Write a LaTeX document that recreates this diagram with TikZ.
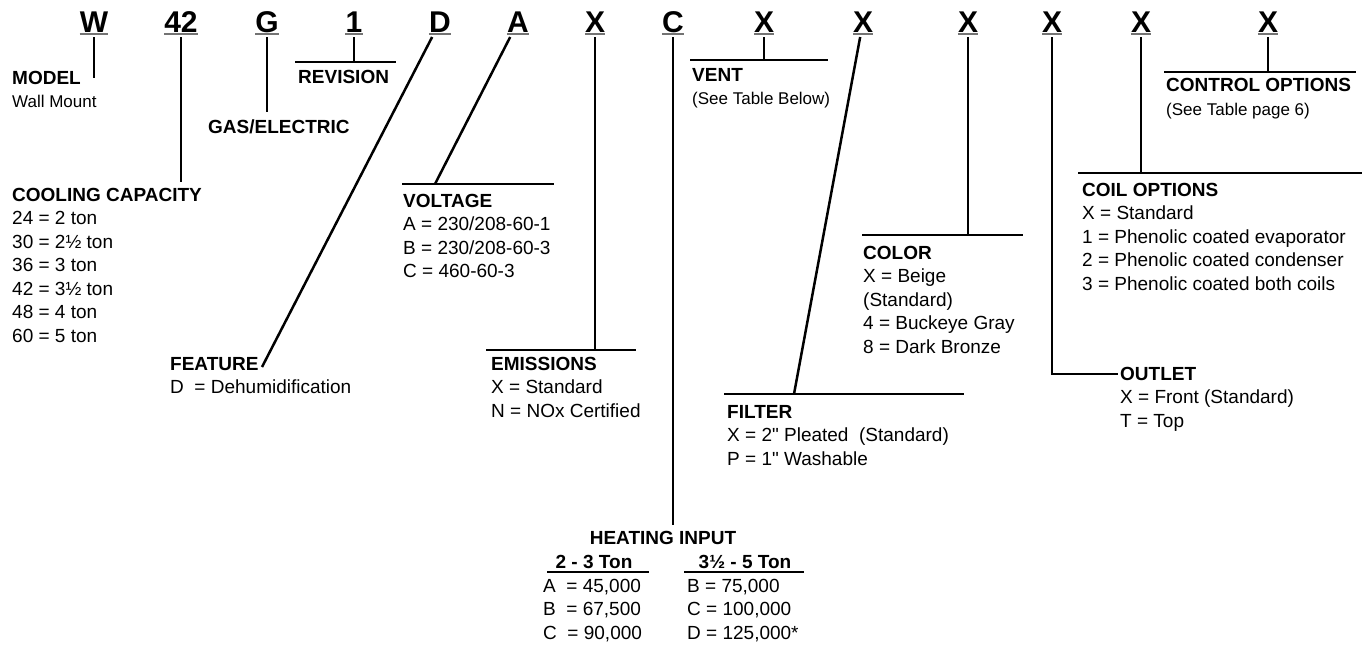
\documentclass[tikz,border=0pt]{standalone}
\usepackage{fontspec}
\setmainfont{Liberation Sans}[Ligatures=TeXOff]
\usetikzlibrary{calc}

\tikzset{
  digit/.style={font=\fontsize{30}{30}\selectfont\bfseries, inner sep=0pt, outer ysep=5pt, anchor=base},
  % multi-line blocks are placed by the baseline of their last line
  field/.style={font=\fontsize{19}{23.5}\selectfont, align=left, inner sep=0pt, anchor=base west},
  lead/.style={line width=2.5pt},
  uline/.style={line width=1.6pt, black!55},
}
\newcommand{\note}[1]{{\fontsize{17}{22}\selectfont #1}}

\begin{document}
\begin{tikzpicture}[x=1pt, y=-1pt]
  \useasboundingbox (0,0) rectangle (1372,646);
  % model number letters
  \node[digit] (w)    at (94,32)   {W};
  \node[digit] (cap)  at (181,32)  {42};
  \node[digit] (g)    at (267,32)  {G};
  \node[digit] (rev)  at (354,32)  {1};
  \node[digit] (d)    at (440,32)  {D};
  \node[digit] (a)    at (518,32)  {A};
  \node[digit] (emi)  at (595,32)  {X};
  \node[digit] (c)    at (673,32)  {C};
  \node[digit] (vent) at (764,32)  {X};
  \node[digit] (filt) at (863,32)  {X};
  \node[digit] (col)  at (968,32)  {X};
  \node[digit] (outl) at (1052,32) {X};
  \node[digit] (coil) at (1141,32) {X};
  \node[digit] (ctrl) at (1268,32) {X};
  \foreach \n in {w,cap,g,rev,d,a,emi,c,vent,filt,col,outl,coil,ctrl}
    \draw[uline] ([yshift=3pt]\n.south west) -- ([yshift=3pt]\n.south east);

  % field descriptions
  \node[field] (model) at (12,107.5) {\textbf{MODEL}\\\note{Wall Mount}};
  \node[field] (cool) at (12,342) {\textbf{COOLING CAPACITY}\\24 = 2 ton\\30 = 2½ ton\\36 = 3 ton\\42 = 3½ ton\\48 = 4 ton\\60 = 5 ton};
  \node[field] (gas) at (208,133) {\textbf{GAS/ELECTRIC}};
  \node[field] (revis) at (298,83) {\textbf{REVISION}};
  \node[field] (feat) at (170,393.5) {\textbf{FEATURE}\\D~ = Dehumidification};
  \node[field] (volt) at (403,277.5) {\textbf{VOLTAGE}\\A = 230/208-60-1\\B = 230/208-60-3\\C = 460-60-3};
  \node[field] (emis) at (491,417) {\textbf{EMISSIONS}\\X = Standard\\N = NOx Certified};
  \node[field] (vnt) at (692,104.5) {\textbf{VENT}\\\note{(See Table Below)}};
  \node[field] (filter) at (727,465) {\textbf{FILTER}\\X = 2" Pleated~ (Standard)\\P = 1" Washable};
  \node[field] (color) at (863,353) {\textbf{COLOR}\\X = Beige\\(Standard)\\4 = Buckeye Gray\\8 = Dark Bronze};
  \node[field] (outlet) at (1120,427) {\textbf{OUTLET}\\X = Front (Standard)\\T = Top};
  \node[field] (coilopt) at (1082,290) {\textbf{COIL OPTIONS}\\X = Standard\\1 = Phenolic coated evaporator\\2 = Phenolic coated condenser\\3 = Phenolic coated both coils};
  \node[field] (ctrlopt) at (1166,115) {\textbf{CONTROL OPTIONS}\\\note{(See Table page 6)}};

  % heating input table
  \node[field, anchor=base] (heat) at (663,544) {\textbf{HEATING INPUT}};
  \node[field, anchor=base] (small) at (594,568) {\textbf{2 - 3 Ton}};
  \node[field, anchor=base] (large) at (745,568) {\textbf{3½ - 5 Ton}};
  \node[field] (smallval) at (543,639) {A~ = 45,000\\B~ = 67,500\\C~ = 90,000};
  \node[field] (largeval) at (687,639) {B = 75,000\\C = 100,000\\D = 125,000*};
  \draw[lead] (547,572) -- (649,572);
  \draw[lead] (684,572) -- (804,572);

  % leader ends
  \coordinate (m tip)  at (94,78);
  \coordinate (cc tip) at (181,182);
  \coordinate (g tip)  at (267,112);
  \coordinate (r tip)  at (354,62);
  \coordinate (f tip)  at (262,367);
  \coordinate (v tip)  at (435,184);
  \coordinate (e tip)  at (595,350);
  \coordinate (h tip)  at (673,525);
  \coordinate (vt tip) at (764,60);
  \coordinate (fl tip) at (794,394);
  \coordinate (co tip) at (968,235);
  \coordinate (o bend) at (1052,374);
  \coordinate (o tip)  at (1118,374);
  \coordinate (ci tip) at (1141,173);
  \coordinate (ct tip) at (1268,72);

  % leaders
  \draw[lead] (w) -- (m tip);
  \draw[lead] (cap) -- (cc tip);
  \draw[lead] (g) -- (g tip);
  \draw[lead] (rev) -- (r tip);
  \draw[lead] (d) -- (f tip);
  \draw[lead] (a) -- (v tip);
  \draw[lead] (emi) -- (e tip);
  \draw[lead] (c) -- (h tip);
  \draw[lead] (vent) -- (vt tip);
  \draw[lead] (filt) -- (fl tip);
  \draw[lead] (col) -- (co tip);
  \draw[lead] (outl) -- (o bend) -- (o tip);
  \draw[lead] (coil) -- (ci tip);
  \draw[lead] (ctrl) -- (ct tip);

  % bars
  \draw[lead] (295,62) -- (396,62);
  \draw[lead] (402,184) -- (554,184);
  \draw[lead] (486,350) -- (636,350);
  \draw[lead] (690,60) -- (828,60);
  \draw[lead] (724,394) -- (964,394);
  \draw[lead] (862,235) -- (1023,235);
  \draw[lead] (1078,173) -- (1362,173);
  \draw[lead] (1164,72) -- (1356,72);
\end{tikzpicture}
\end{document}
